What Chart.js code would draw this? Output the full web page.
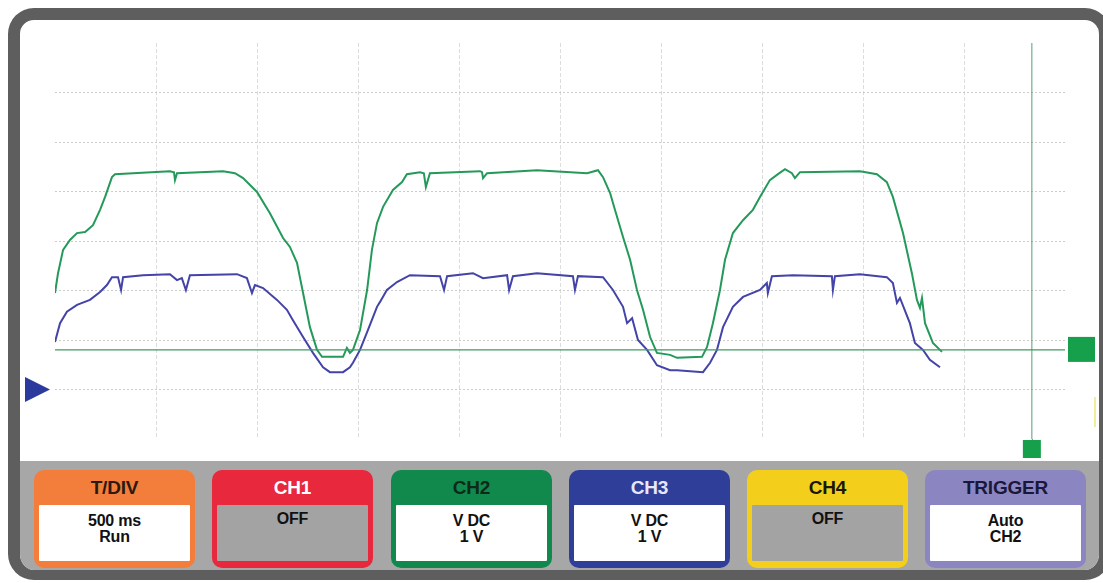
<!DOCTYPE html>
<html><head><meta charset="utf-8">
<script src="https://cdn.jsdelivr.net/npm/chart.js@4"></script>
<style>
html,body{margin:0;padding:0;width:1103px;height:583px;overflow:hidden;background:#fff;font-family:"Liberation Sans",Arial,sans-serif;}
#frame{position:absolute;left:8px;top:8px;width:1103px;height:572px;box-sizing:border-box;border:12px solid #5e5e5e;border-bottom-width:10px;border-radius:26px;background:#fff;overflow:hidden}
#panel{position:absolute;left:0;right:0;bottom:0;height:109px;background:#a7a7a7;}
.box{position:absolute;top:9px;width:161px;height:98px;border-radius:10px;box-sizing:border-box;}
.box .hd{position:absolute;left:0;right:0;top:0;height:35px;line-height:36px;text-align:center;font-weight:bold;font-size:19px;letter-spacing:-0.2px}
.box .bd{position:absolute;left:5px;right:5px;top:35px;bottom:7px;background:#fff;text-align:center;font-weight:bold;font-size:16px;line-height:16px;color:#111;padding-top:8px;box-sizing:border-box;border-radius:1px;letter-spacing:-0.2px}
.box .bd.off{background:#a3a3a3;padding-top:6px;}
#cv{position:absolute;left:0;top:0;}
</style>
</head><body>
<div id="frame">
  <div id="panel">
    <div class="box" style="left:14px;background:#f37e3c"><div class="hd" style="color:#2a1a10">T/DIV</div><div class="bd">500 ms<br>Run</div></div>
    <div class="box" style="left:192px;background:#e8283c"><div class="hd" style="color:#fff">CH1</div><div class="bd off">OFF</div></div>
    <div class="box" style="left:371px;background:#11894c"><div class="hd" style="color:#0d2a18">CH2</div><div class="bd">V DC<br>1 V</div></div>
    <div class="box" style="left:549px;background:#2f3e98"><div class="hd" style="color:#e6e8ff">CH3</div><div class="bd">V DC<br>1 V</div></div>
    <div class="box" style="left:727px;background:#f3cf1c"><div class="hd" style="color:#1a1600">CH4</div><div class="bd off">OFF</div></div>
    <div class="box" style="left:905px;background:#8b86c2"><div class="hd" style="color:#1a1838">TRIGGER</div><div class="bd">Auto<br>CH2</div></div>
  </div>
</div>
<canvas id="cv" width="1103" height="583"></canvas>
<script>
// time in seconds (500 ms/div), voltage in volts (1 V/div)
const greenT = [0,0.015,0.040,0.074,0.109,0.149,0.188,0.223,0.248,0.282,0.297,0.386,0.569,0.589,0.594,0.604,0.832,0.891,0.931,1.000,1.064,1.129,1.163,1.198,1.228,1.262,1.297,1.322,1.426,1.445,1.460,1.475,1.510,1.545,1.569,1.594,1.624,1.673,1.718,1.742,1.807,1.826,1.836,1.856,2.104,2.114,2.119,2.139,2.386,2.634,2.688,2.713,2.748,2.772,2.812,2.847,2.881,2.911,2.946,2.980,3.045,3.079,3.203,3.228,3.257,3.292,3.317,3.356,3.406,3.455,3.490,3.539,3.579,3.614,3.648,3.663,3.688,3.985,4.069,4.118,4.148,4.198,4.242,4.267,4.282,4.292,4.307,4.346,4.391];
const greenV = [1.95,2.35,2.82,3.02,3.16,3.18,3.32,3.63,3.89,4.29,4.35,4.37,4.41,4.39,4.23,4.37,4.41,4.37,4.27,3.99,3.56,3.06,2.88,2.56,1.95,1.26,0.80,0.66,0.66,0.84,0.74,0.80,1.20,2.01,2.82,3.36,3.69,4.03,4.19,4.35,4.39,4.37,4.09,4.37,4.41,4.39,4.27,4.37,4.43,4.37,4.43,4.29,3.97,3.63,3.08,2.62,2.01,1.61,1.06,0.74,0.70,0.64,0.66,0.86,1.34,2.01,2.62,3.16,3.42,3.63,3.89,4.23,4.35,4.45,4.37,4.27,4.39,4.41,4.35,4.19,3.89,3.16,2.35,1.81,1.65,1.85,1.34,0.94,0.76];
const blueT = [0,0.025,0.059,0.109,0.173,0.223,0.257,0.282,0.312,0.327,0.337,0.436,0.569,0.604,0.628,0.648,0.668,0.901,0.950,0.975,0.990,1.030,1.099,1.148,1.178,1.228,1.277,1.327,1.361,1.426,1.460,1.475,1.510,1.549,1.594,1.609,1.643,1.693,1.757,1.906,1.926,1.941,2.069,2.119,2.238,2.248,2.267,2.386,2.564,2.574,2.589,2.713,2.762,2.812,2.832,2.857,2.886,2.931,2.980,3.045,3.079,3.208,3.243,3.277,3.307,3.356,3.406,3.490,3.524,3.529,3.549,3.653,3.846,3.851,3.861,3.985,4.118,4.148,4.168,4.183,4.232,4.257,4.297,4.331,4.381];
const blueV = [0.96,1.34,1.57,1.71,1.81,1.97,2.11,2.27,2.27,2.01,2.27,2.31,2.33,2.21,2.25,2.01,2.31,2.33,2.25,1.95,2.11,2.05,1.81,1.61,1.40,1.06,0.74,0.45,0.35,0.35,0.45,0.54,0.80,1.20,1.67,1.77,2.01,2.17,2.31,2.29,2.01,2.29,2.35,2.25,2.31,2.01,2.29,2.35,2.29,2.01,2.29,2.27,2.01,1.67,1.34,1.44,1.00,0.80,0.49,0.39,0.39,0.35,0.54,0.80,1.26,1.67,1.87,2.01,2.15,1.95,2.29,2.31,2.29,2.01,2.29,2.33,2.27,2.15,1.75,1.85,1.34,0.94,0.80,0.60,0.45];
const triggerLevel = 0.8;   // V
const cursorTime = 4.836;   // s
const ch3Ground = 0;        // V
const xRange = [0, 5];
const yRange = [-1, 7];

const pts = (t, v) => t.map((x, i) => ({x, y: v[i]}));

const markers = {
  id: 'markers',
  afterDraw(chart) {
    const {ctx, scales: {x, y}, chartArea} = chart;
    ctx.save();
    const gy = y.getPixelForValue(ch3Ground);
    ctx.fillStyle = '#2b3a9c';
    ctx.beginPath();
    ctx.moveTo(25, gy - 12.5); ctx.lineTo(50, gy); ctx.lineTo(25, gy + 12.5); ctx.closePath(); ctx.fill();
    const ty = y.getPixelForValue(triggerLevel);
    ctx.fillStyle = '#17a04c';
    ctx.fillRect(chartArea.right + 3, ty - 13, 27, 25);
    const cx = x.getPixelForValue(cursorTime);
    ctx.strokeStyle = '#4f9a6c'; ctx.lineWidth = 1;
    ctx.beginPath(); ctx.moveTo(cx + 0.5, chartArea.bottom); ctx.lineTo(cx + 0.5, chartArea.bottom + 2); ctx.stroke();
    ctx.fillRect(cx - 9, chartArea.bottom + 1, 18, 18);
    ctx.strokeStyle = '#f1ee9a'; ctx.lineWidth = 2;
    ctx.beginPath(); ctx.moveTo(1095, 397); ctx.lineTo(1095, 427); ctx.stroke();
    ctx.restore();
  }
};

const edgeHidden = (col) => (c) => (c.index === 0 || c.index === c.scale.ticks.length - 1) ? 'rgba(0,0,0,0)' : col;

new Chart(document.getElementById('cv'), {
  type: 'line',
  data: {
    datasets: [
      {label: 'Trigger', data: [{x: xRange[0], y: triggerLevel}, {x: xRange[1], y: triggerLevel}], borderColor: '#3f9a62', borderWidth: 1.2, pointRadius: 0},
      {label: 'Cursor', data: [{x: cursorTime, y: yRange[0]}, {x: cursorTime, y: yRange[1]}], borderColor: '#5a9c74', borderWidth: 1, pointRadius: 0},
      {label: 'CH3', data: pts(blueT, blueV), borderColor: '#4343a8', borderWidth: 2, pointRadius: 0, tension: 0},
      {label: 'CH2', data: pts(greenT, greenV), borderColor: '#24995a', borderWidth: 2, pointRadius: 0, tension: 0}
    ]
  },
  options: {
    responsive: false, animation: false, events: [],
    layout: {padding: {left: 55, top: 43, right: 38, bottom: 144}},
    plugins: {legend: {display: false}, tooltip: {enabled: false}},
    scales: {
      x: {type: 'linear', min: xRange[0], max: xRange[1],
          ticks: {display: false, stepSize: 0.5}, border: {display: false, dash: [4, 2]},
          grid: {drawTicks: false, color: edgeHidden('#dcdcdc'), lineWidth: 1}},
      y: {type: 'linear', min: yRange[0], max: yRange[1],
          ticks: {display: false, stepSize: 1}, border: {display: false, dash: [2, 2]},
          grid: {drawTicks: false, color: edgeHidden('#cccccc'), lineWidth: 1}}
    }
  },
  plugins: [markers]
});
</script>
</body></html>
